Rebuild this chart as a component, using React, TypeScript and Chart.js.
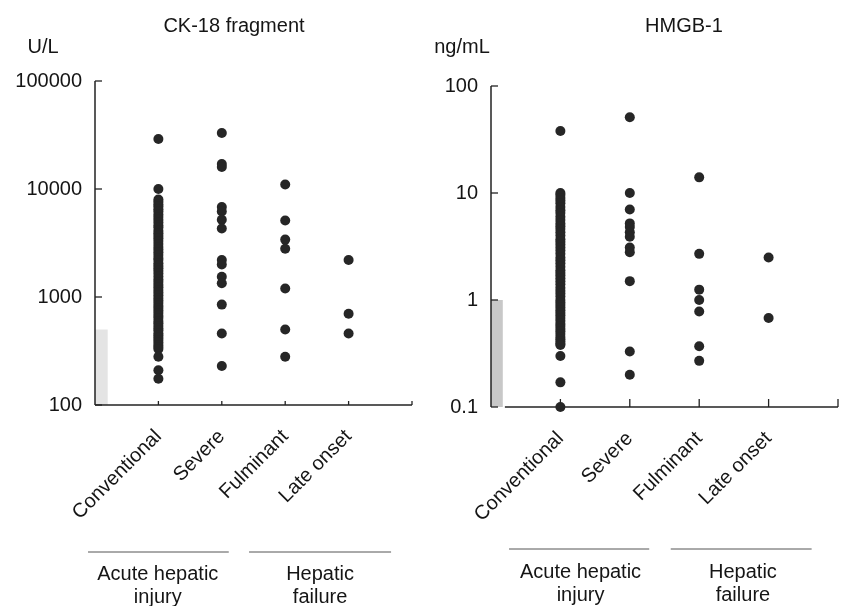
import React, { useEffect, useRef } from 'react';
import { Chart, registerables } from 'chart.js';

Chart.register(...registerables);

// ---------- data ----------
const categories = ['Conventional', 'Severe', 'Fulminant', 'Late onset'];
const groupLabels = [
  ['Acute hepatic', 'injury'],
  ['Hepatic', 'failure'],
];

// CK-18 fragment (U/L)
const ckTitle = 'CK-18 fragment';
const ckUnit = 'U/L';
const ckTickValues = [100, 1000, 10000, 100000];
const ckTickLabels = ['100', '1000', '10000', '100000'];
const ckNormalUpper = 500;
const ckConventional = [
  29000, 10000, 8000, 7600, 7200, 6900, 6500, 6200, 5800, 5500, 5200, 4900, 4600, 4400,
  4100, 3900, 3700, 3500, 3300, 3100, 2900, 2750, 2600, 2450, 2300, 2200, 2050, 1950,
  1850, 1750, 1650, 1550, 1450, 1380, 1300, 1230, 1160, 1100, 1040, 980, 930, 880, 830,
  790, 750, 710, 670, 640, 600, 570, 540, 510, 490, 460, 440, 420, 400, 380, 360, 345,
  330, 280, 210, 175,
];
const ckSevere = [33000, 17000, 16000, 6800, 6200, 5200, 4300, 2200, 2000, 1540, 1340, 850, 460, 230];
const ckFulminant = [11000, 5100, 3400, 2800, 1200, 500, 280];
const ckLateOnset = [2200, 700, 460];

// HMGB-1 (ng/mL)
const hmgbTitle = 'HMGB-1';
const hmgbUnit = 'ng/mL';
const hmgbTickValues = [0.1, 1, 10, 100];
const hmgbTickLabels = ['0.1', '1', '10', '100'];
const hmgbNormalUpper = 1;
const hmgbConventional = [
  38, 10, 9.6, 9.0, 8.5, 8.0, 7.4, 6.9, 6.5, 6.0, 5.6, 5.2, 4.9, 4.6, 4.3, 4.0, 3.7, 3.5,
  3.3, 3.1, 2.9, 2.7, 2.5, 2.35, 2.2, 2.05, 1.9, 1.8, 1.7, 1.6, 1.5, 1.4, 1.3, 1.22, 1.15,
  1.08, 1.0, 0.95, 0.9, 0.85, 0.8, 0.76, 0.72, 0.68, 0.64, 0.6, 0.57, 0.54, 0.51, 0.48,
  0.45, 0.43, 0.41, 0.39, 0.38, 0.3, 0.17, 0.1,
];
const hmgbSevere = [51, 10, 7, 5.2, 4.8, 4.3, 3.9, 3.1, 2.8, 1.5, 0.33, 0.2];
const hmgbFulminant = [14, 2.7, 1.25, 1.0, 0.78, 0.37, 0.27];
const hmgbLateOnset = [2.5, 0.68];

// ---------- layout (positions / styles) ----------
const FONT = '"Liberation Sans", Arial, Helvetica, sans-serif';
const TEXT = '#151515';
const INK = '#262626';
const H = 606;

type Layout = {
  left: number; width: number; chartLeft: number; chartRight: number; chartTop: number; chartBottom: number;
  xLineStart: number; normalWidth: number; normalColor: string;
  titleX: number; titleY: number; unitX: number; unitY: number;
  xTickLen: number; yTickLen: number;
  groupLines: number[][]; groupCenters: number[]; lineY: number; textY: number[];
};

const leftLayout: Layout = {
  left: 0, width: 421, chartLeft: 95, chartRight: 412, chartTop: 81, chartBottom: 405,
  xLineStart: 0, normalWidth: 0.2, normalColor: '#e4e4e4',
  titleX: 234, titleY: 32, unitX: 43, unitY: 53,
  xTickLen: 4, yTickLen: 7,
  groupLines: [[-0.11, 2.11], [2.43, 4.67]], groupCenters: [0.99, 3.55], lineY: 552, textY: [580, 603],
};
const rightLayout: Layout = {
  left: 421, width: 422, chartLeft: 70, chartRight: 418, chartTop: 86, chartBottom: 407,
  xLineStart: 0.2, normalWidth: 0.17, normalColor: '#c8c8c8',
  titleX: 263, titleY: 32, unitX: 41, unitY: 53,
  xTickLen: 8, yTickLen: 7,
  groupLines: [[0.26, 2.28], [2.59, 4.62]], groupCenters: [1.29, 3.63], lineY: 549, textY: [578, 601],
};

type Panel = {
  title: string; unit: string; tickValues: number[]; tickLabels: string[]; normalUpper: number;
  series: number[][]; layout: Layout;
};

const panels: Panel[] = [
  {
    title: ckTitle, unit: ckUnit, tickValues: ckTickValues, tickLabels: ckTickLabels, normalUpper: ckNormalUpper,
    series: [ckConventional, ckSevere, ckFulminant, ckLateOnset], layout: leftLayout,
  },
  {
    title: hmgbTitle, unit: hmgbUnit, tickValues: hmgbTickValues, tickLabels: hmgbTickLabels, normalUpper: hmgbNormalUpper,
    series: [hmgbConventional, hmgbSevere, hmgbFulminant, hmgbLateOnset], layout: rightLayout,
  },
];

function makeDecor(p: Panel) {
  const L = p.layout;
  return {
    id: 'decor',
    beforeDatasetsDraw(chart: any) {
      const { ctx, chartArea } = chart;
      const xs = chart.scales.x;
      const ys = chart.scales.y;
      const yMin = p.tickValues[0];
      const yMax = p.tickValues[p.tickValues.length - 1];
      ctx.save();
      // normal range bar
      const bx0 = xs.getPixelForValue(0);
      const bx1 = xs.getPixelForValue(L.normalWidth);
      const by0 = ys.getPixelForValue(p.normalUpper);
      const by1 = ys.getPixelForValue(yMin);
      ctx.fillStyle = L.normalColor;
      ctx.fillRect(bx0, by0, bx1 - bx0, by1 - by0);
      // axes
      ctx.strokeStyle = '#222';
      ctx.lineWidth = 1.5;
      ctx.beginPath();
      ctx.moveTo(chartArea.left, ys.getPixelForValue(yMax));
      ctx.lineTo(chartArea.left, ys.getPixelForValue(yMin));
      ctx.stroke();
      ctx.beginPath();
      ctx.moveTo(xs.getPixelForValue(L.xLineStart), chartArea.bottom);
      ctx.lineTo(xs.getPixelForValue(xs.max), chartArea.bottom);
      ctx.stroke();
      // y ticks (inward)
      ctx.lineWidth = 1.3;
      p.tickValues.forEach((v) => {
        const y = ys.getPixelForValue(v);
        ctx.beginPath();
        ctx.moveTo(chartArea.left, y);
        ctx.lineTo(chartArea.left + L.yTickLen, y);
        ctx.stroke();
      });
      // x ticks (upward)
      const xt = categories.map((_, i) => i + 1).concat([xs.max]);
      xt.forEach((v) => {
        const x = xs.getPixelForValue(v);
        ctx.beginPath();
        ctx.moveTo(x, chartArea.bottom);
        ctx.lineTo(x, chartArea.bottom - L.xTickLen);
        ctx.stroke();
      });
      ctx.restore();
    },
    afterDraw(chart: any) {
      const { ctx } = chart;
      const xs = chart.scales.x;
      ctx.save();
      ctx.fillStyle = TEXT;
      ctx.textBaseline = 'alphabetic';
      ctx.textAlign = 'center';
      ctx.font = `20px ${FONT}`;
      ctx.fillText(p.title, L.titleX, L.titleY);
      ctx.fillText(p.unit, L.unitX, L.unitY);
      // group annotations
      ctx.strokeStyle = '#555';
      ctx.lineWidth = 1;
      L.groupLines.forEach((g, i) => {
        ctx.beginPath();
        ctx.moveTo(xs.getPixelForValue(g[0]), L.lineY);
        ctx.lineTo(xs.getPixelForValue(g[1]), L.lineY);
        ctx.stroke();
        const cx = xs.getPixelForValue(L.groupCenters[i]);
        groupLabels[i].forEach((t, j) => ctx.fillText(t, cx, L.textY[j]));
      });
      ctx.restore();
    },
  };
}

function PanelChart({ p }: { p: Panel }) {
  const ref = useRef<HTMLCanvasElement | null>(null);
  useEffect(() => {
    const L = p.layout;
    const chart = new Chart(ref.current as HTMLCanvasElement, {
      type: 'scatter',
      data: {
        datasets: p.series.map((vals, i) => ({
          label: categories[i],
          data: vals.map((v) => ({ x: i + 1, y: v })),
          pointRadius: 5,
          pointHoverRadius: 5,
          backgroundColor: INK,
          borderWidth: 0,
          clip: false as any,
        })),
      },
      options: {
        animation: false,
        responsive: false,
        maintainAspectRatio: false,
        events: [],
        layout: { padding: { left: 0, top: L.chartTop, right: L.width - L.chartRight, bottom: 0 } },
        plugins: { legend: { display: false }, tooltip: { enabled: false }, title: { display: false } },
        scales: {
          x: {
            type: 'linear',
            min: 0,
            max: 5,
            grid: { display: false, drawTicks: false },
            border: { display: false },
            afterBuildTicks: (s: any) => {
              s.ticks = categories.map((_, i) => ({ value: i + 1 }));
            },
            afterFit: (s: any) => {
              s.height = H - L.chartBottom;
            },
            ticks: {
              autoSkip: false,
              maxRotation: 45,
              minRotation: 45,
              padding: 20,
              color: TEXT,
              font: { family: FONT, size: 20 },
              callback: (v: any) => categories[Math.round(Number(v)) - 1] ?? '',
            },
          },
          y: {
            type: 'logarithmic',
            min: p.tickValues[0],
            max: p.tickValues[p.tickValues.length - 1],
            grid: { display: false, drawTicks: false },
            border: { display: false },
            afterBuildTicks: (s: any) => {
              s.ticks = p.tickValues.map((v) => ({ value: v }));
            },
            afterFit: (s: any) => {
              s.width = L.chartLeft;
            },
            ticks: {
              padding: 13,
              color: TEXT,
              font: { family: FONT, size: 20 },
              callback: (v: any) => {
                const i = p.tickValues.indexOf(Number(v));
                return i >= 0 ? p.tickLabels[i] : '';
              },
            },
          },
        },
      } as any,
      plugins: [makeDecor(p)],
    });
    return () => chart.destroy();
  }, [p]);
  const L = p.layout;
  return (
    <canvas
      ref={ref}
      width={L.width}
      height={H}
      style={{ position: 'absolute', left: L.left, top: 0, width: L.width, height: H }}
    />
  );
}

export default function App() {
  return (
    <div style={{ position: 'fixed', left: 0, top: 0, width: 843, height: H, background: '#fff', overflow: 'hidden' }}>
      {panels.map((p, i) => (
        <PanelChart key={i} p={p} />
      ))}
    </div>
  );
}
